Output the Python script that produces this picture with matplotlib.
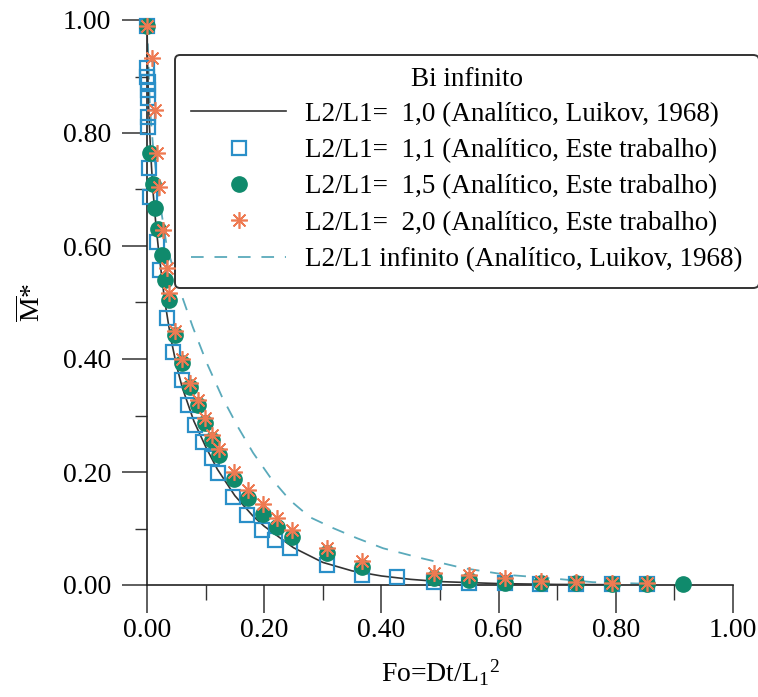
import numpy as np
import matplotlib
matplotlib.use("Agg")
import matplotlib.pyplot as plt
from matplotlib.ticker import MultipleLocator, FormatStrFormatter

plt.rcParams['font.family'] = ['Liberation Serif', 'DejaVu Serif']
plt.rcParams['mathtext.fontset'] = 'custom'
plt.rcParams['mathtext.rm'] = 'Liberation Serif'
plt.rcParams['mathtext.it'] = 'Liberation Serif:italic'

# ---- data ----
line10_fo = [0, 0.001, 0.003, 0.006, 0.010, 0.015, 0.020, 0.030, 0.040, 0.050, 0.060, 0.080,
             0.100, 0.120, 0.150, 0.180, 0.200, 0.250, 0.300, 0.350, 0.400, 0.450, 0.500,
             0.600, 0.700, 0.800]
line10_m = [1.0, 0.92, 0.84, 0.77, 0.70, 0.64, 0.59, 0.505, 0.44, 0.39, 0.35, 0.29,
            0.245, 0.205, 0.158, 0.123, 0.104, 0.066, 0.040, 0.025, 0.016, 0.010, 0.006,
            0.0025, 0.001, 0.0005]

sq_fo = [0.0, 0.0003, 0.0006, 0.0009, 0.0012, 0.0015, 0.002, 0.0025, 0.003, 0.005, 0.017,
         0.022, 0.034, 0.044, 0.060, 0.070, 0.082, 0.096, 0.111, 0.121, 0.147, 0.171,
         0.196, 0.218, 0.244, 0.307, 0.367, 0.427, 0.490, 0.550, 0.611, 0.671, 0.732,
         0.793, 0.853]
sq_m = [0.99, 0.915, 0.90, 0.89, 0.876, 0.862, 0.828, 0.81, 0.738, 0.687, 0.607,
        0.557, 0.473, 0.412, 0.363, 0.319, 0.283, 0.253, 0.225, 0.198, 0.156, 0.124,
        0.097, 0.080, 0.065, 0.035, 0.018, 0.014, 0.005, 0.004, 0.003, 0.002, 0.002,
        0.001, 0.001]

ci_fo = [0.0, 0.005, 0.010, 0.014, 0.019, 0.026, 0.031, 0.038, 0.048, 0.060, 0.073,
         0.087, 0.099, 0.111, 0.123, 0.148, 0.172, 0.198, 0.222, 0.247, 0.307, 0.367,
         0.490, 0.550, 0.611, 0.672, 0.732, 0.793, 0.853, 0.915]
ci_m = [0.99, 0.765, 0.71, 0.667, 0.63, 0.584, 0.54, 0.504, 0.442, 0.393, 0.350,
        0.319, 0.287, 0.257, 0.230, 0.188, 0.154, 0.126, 0.103, 0.085, 0.057, 0.032,
        0.012, 0.009, 0.004, 0.003, 0.003, 0.002, 0.002, 0.002]

st_fo = [0.0, 0.008, 0.014, 0.017, 0.021, 0.027, 0.034, 0.038, 0.048, 0.060, 0.073,
         0.087, 0.099, 0.111, 0.123, 0.148, 0.172, 0.198, 0.222, 0.247, 0.307, 0.367,
         0.490, 0.550, 0.611, 0.672, 0.732, 0.793, 0.853]
st_m = [0.99, 0.933, 0.840, 0.765, 0.705, 0.628, 0.561, 0.517, 0.450, 0.400, 0.358,
        0.327, 0.295, 0.266, 0.240, 0.200, 0.168, 0.143, 0.118, 0.098, 0.066, 0.043,
        0.022, 0.017, 0.012, 0.007, 0.005, 0.004, 0.003]

inf_fo = [0.0, 0.005, 0.010, 0.020, 0.034, 0.056, 0.078, 0.102, 0.128, 0.155, 0.181,
          0.210, 0.244, 0.278, 0.317, 0.358, 0.403, 0.466, 0.539, 0.614, 0.688, 0.761,
          0.858]
inf_m = [1.0, 0.846, 0.78, 0.69, 0.598, 0.522, 0.457, 0.393, 0.333, 0.280, 0.234,
         0.191, 0.150, 0.120, 0.101, 0.083, 0.065, 0.048, 0.030, 0.018, 0.012, 0.005,
         0.002]

labels = ["L2/L1=  1,0 (Analítico, Luikov, 1968)",
          "L2/L1=  1,1 (Analítico, Este trabalho)",
          "L2/L1=  1,5 (Analítico, Este trabalho)",
          "L2/L1=  2,0 (Analítico, Este trabalho)",
          "L2/L1 infinito (Analítico, Luikov, 1968)"]

W, H = 758, 697
fig = plt.figure(figsize=(W / 100, H / 100), dpi=100)
ax = fig.add_axes([147 / W, 1 - 585 / H, 586 / W, 565 / H])

c_sq = '#2a8fc8'
c_ci = '#108a6c'
c_st = '#ee7a52'
c_inf = '#5aaabb'

h1, = ax.plot(line10_fo, line10_m, color='#333333', lw=1.2, zorder=3, label=labels[0])
h5, = ax.plot(inf_fo, inf_m, color=c_inf, lw=1.3, ls=(0, (7, 6)), zorder=2, label=labels[4])
h2, = ax.plot(sq_fo, sq_m, ls='none', marker='s', ms=10, mfc='none', mec=c_sq, mew=1.6,
              zorder=4, clip_on=False, label=labels[1])
h3, = ax.plot(ci_fo, ci_m, ls='none', marker='o', ms=11, mfc=c_ci, mec=c_ci,
              zorder=5, clip_on=False, label=labels[2])
h4, = ax.plot(st_fo, st_m, ls='none', marker=(8, 2, 0), ms=12, mec=c_st, mew=1.2,
              zorder=6, clip_on=False, label=labels[3])

ax.set_xlim(0, 1.0)
ax.set_ylim(0, 1.0)
for s in ['top', 'right']:
    ax.spines[s].set_visible(False)
for s in ['left', 'bottom']:
    ax.spines[s].set_linewidth(1.2)
    ax.spines[s].set_color('#222222')

ax.xaxis.set_major_locator(MultipleLocator(0.2))
ax.xaxis.set_minor_locator(MultipleLocator(0.1))
ax.yaxis.set_major_locator(MultipleLocator(0.2))
ax.yaxis.set_minor_locator(MultipleLocator(0.1))
ax.xaxis.set_major_formatter(FormatStrFormatter('%.2f'))
ax.yaxis.set_major_formatter(FormatStrFormatter('%.2f'))
ax.tick_params(axis='both', which='major', direction='out', length=18, width=1.1,
               labelsize=20, color='#333333')
ax.tick_params(axis='both', which='minor', direction='out', length=9, width=1.0,
               color='#333333')
ax.tick_params(axis='x', which='major', length=20, pad=4)
ax.tick_params(axis='x', which='minor', length=11)
ax.tick_params(axis='y', which='major', pad=8)

ax.set_xlabel(r'Fo=Dt/L$_1$$^{2}$', fontsize=20, labelpad=10)
ax.set_ylabel(r'$\overline{\mathrm{M}}$*', fontsize=20, labelpad=12)

leg = ax.legend(handles=[h1, h2, h3, h4, h5], labels=labels, title=' ',
                loc='upper left', bbox_to_anchor=(175 / W, 1 - 55 / H),
                bbox_transform=fig.transFigure, borderaxespad=0,
                fontsize=19.5, title_fontsize=16, frameon=True, fancybox=True,
                edgecolor='#333333', framealpha=1, handlelength=3.5,
                handletextpad=0.7, labelspacing=0.42, borderpad=0.6)
leg.get_frame().set_linewidth(1.4)
fig.text(467 / W, 1 - 80 / H, 'Bi infinito', fontsize=19.5, ha='center', va='center')

fig.savefig('out.png', dpi=100)
